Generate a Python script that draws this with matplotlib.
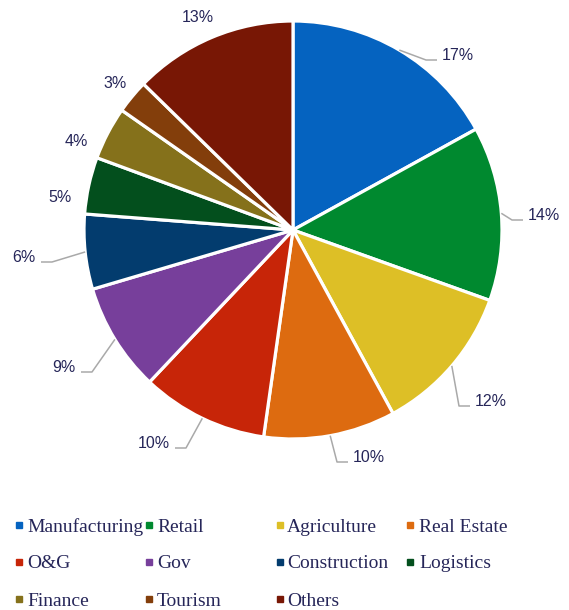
import matplotlib

matplotlib.use("Agg")
import matplotlib.pyplot as plt
import numpy as np

# slice data (clockwise from 12 o'clock)
sectors = ["Manufacturing", "Retail", "Agriculture", "Real Estate", "O&G", "Gov",
           "Construction", "Logistics", "Finance", "Tourism", "Others"]
shares = [17.0, 13.5, 11.6, 10.2, 9.8, 8.4, 5.8, 4.4, 4.1, 2.6, 12.7]
pct_labels = ["17%", "14%", "12%", "10%", "10%", "9%", "6%", "5%", "4%", "3%", "13%"]
colors = ["#0563C0", "#00892F", "#DDBF26", "#DD6B10", "#C72508", "#773F9B",
          "#033C6E", "#034F1D", "#85711B", "#833E0B", "#781705"]

TXT = "#262659"
LEAD = "#A9A9A9"

W, H = 569, 610
fig = plt.figure(figsize=(W / 100, H / 100), dpi=100)
ax = fig.add_axes([0, 0, 1, 1])

cx, cy, R = 293, 230, 209
wedges, _ = ax.pie(shares, colors=colors, startangle=-90, counterclock=True,
                   center=(cx, cy), radius=R,
                   wedgeprops=dict(edgecolor="white", linewidth=2.3))
ax.set_xlim(0, W)
ax.set_ylim(H, 0)
ax.set_aspect("equal")
ax.axis("off")

# label placement: (x, y, side) side: 'l' text left of leader, 'r' right, None = no leader
label_pos = [(442, 55, "r"), (528, 215, "r"), (475, 401, "r"), (353, 457, "r"),
             (170, 443, "l"), (76, 367, "l"), (36, 257, "l"),
             (60, 197, None), (76, 141, None), (115, 84, None), (198, 17, None)]

for w, lab, (tx, ty, side) in zip(wedges, pct_labels, label_pos):
    mid = np.deg2rad((w.theta1 + w.theta2) / 2)
    ex, ey = cx + R * np.cos(mid), cy + R * np.sin(mid)
    if side is None:
        ax.text(tx, ty, lab, ha="center", va="center", fontsize=11.5,
                color=TXT, family="Liberation Sans")
        continue
    ly = ty + 5
    if side == "r":
        xs = [ex, tx - 16, tx - 5]
        ha = "left"
    else:
        xs = [ex, tx + 16, tx + 5]
        ha = "right"
    ax.plot(xs, [ey, ly, ly], color=LEAD, lw=1.1, solid_capstyle="butt")
    ax.text(tx, ty, lab, ha=ha, va="center", fontsize=11.5, color=TXT,
            family="Liberation Sans")

# legend, 4 columns x 3 rows
col_marker = [19, 149, 280, 410]
col_text = [27, 157, 287, 419]
row_y = [525, 562, 599]
for i, (name, c) in enumerate(zip(sectors, colors)):
    r, k = divmod(i, 4)
    ax.plot(col_marker[k], row_y[r], marker="s", ms=4, color=c, mec=c)
    ax.text(col_text[k], row_y[r] + 2, name, ha="left", va="center",
            fontsize=14, color=TXT, family="Liberation Serif")

fig.savefig("out.png", dpi=100)
